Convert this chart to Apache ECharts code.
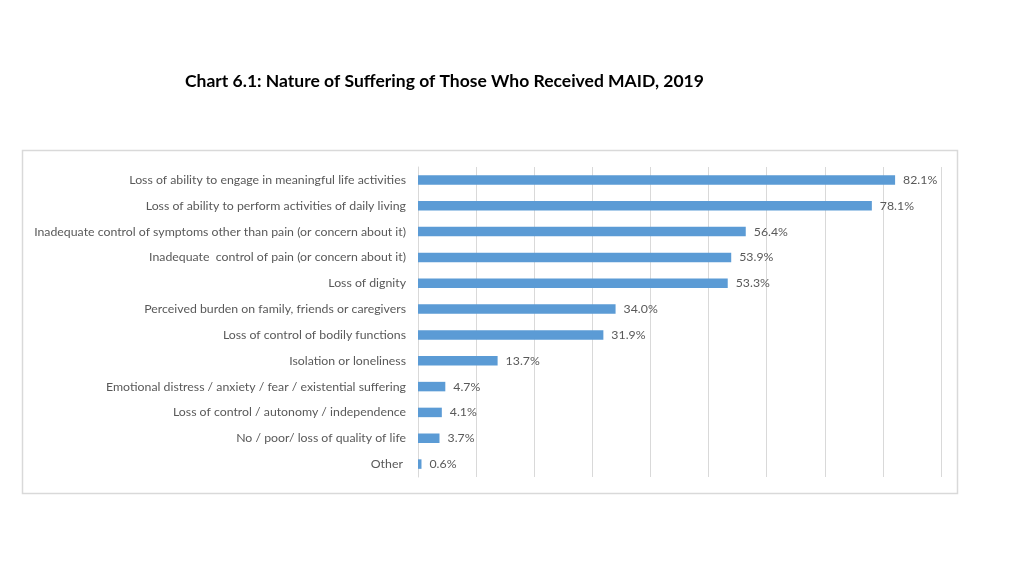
<!DOCTYPE html>
<html><head><meta charset="utf-8">
<script src="https://cdn.jsdelivr.net/npm/echarts@6/dist/echarts.min.js"></script>
<style>html,body{margin:0;padding:0;background:#fff}#c{width:1024px;height:576px}</style>
</head><body><div id="c"></div>
<script>
const categories = [
  "Loss of ability to engage in meaningful life activities",
  "Loss of ability to perform activities of daily living",
  "Inadequate control of symptoms other than pain (or concern about it)",
  "Inadequate  control of pain (or concern about it)",
  "Loss of dignity",
  "Perceived burden on family, friends or caregivers",
  "Loss of control of bodily functions",
  "Isolation or loneliness",
  "Emotional distress / anxiety / fear / existential suffering",
  "Loss of control / autonomy / independence",
  "No / poor/ loss of quality of life",
  "Other "
];
const values = [82.1, 78.1, 56.4, 53.9, 53.3, 34.0, 31.9, 13.7, 4.7, 4.1, 3.7, 0.6];
const titleText = "Chart 6.1: Nature of Suffering of Those Who Received MAID, 2019";

const chart = echarts.init(document.getElementById('c'));
chart.setOption({
  animation: false,
  title: {
    text: titleText, left: 180, top: 67,
    textStyle: {fontFamily: 'Lato', fontWeight: 'bold', fontSize: 17.5, color: '#000'}
  },
  graphic: [{
    type: 'rect', left: 20, top: 148, z: -1,
    shape: {width: 935, height: 343},
    style: {fill: 'none', stroke: '#d9d9d9', lineWidth: 1.5}
  }],
  grid: {left: 418, right: 83, top: 167, height: 310, containLabel: false},
  xAxis: {
    type: 'value', min: 0, max: 90, interval: 10,
    axisLabel: {show: false}, axisLine: {show: false}, axisTick: {show: false},
    splitLine: {lineStyle: {color: '#d9d9d9', width: 1}}
  },
  yAxis: {
    type: 'category', data: categories, inverse: true,
    axisLine: {show: true, lineStyle: {color: '#d9d9d9'}},
    axisTick: {show: false},
    axisLabel: {fontFamily: 'Lato', fontSize: 12.3, color: '#595959', margin: 12}
  },
  series: [{
    type: 'bar', data: values, barWidth: 9.5,
    itemStyle: {color: '#5b9bd5'},
    label: {
      show: true, position: 'right', distance: 8,
      formatter: p => p.value.toFixed(1) + '%',
      fontFamily: 'Lato', fontSize: 12.3, color: '#595959'
    }
  }]
});
</script></body></html>
